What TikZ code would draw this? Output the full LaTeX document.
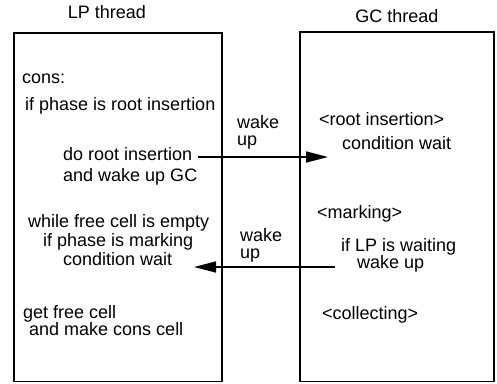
\documentclass[tikz,border=0pt]{standalone}
\usepackage{fontspec}
\setmainfont{Liberation Sans}
\usetikzlibrary{arrows.meta}
\begin{document}
\begin{tikzpicture}[x=1pt,y=-1pt,
  txt/.style={anchor=base west,inner sep=0pt,font=\fontsize{18}{20}\selectfont},
  ttl/.style={anchor=base,inner sep=0pt,font=\fontsize{18}{20}\selectfont},
  thread/.style={draw,line width=1.6pt},
  conn/.style={line width=1.5pt,-{Triangle[length=22pt,width=11pt]}}]
\useasboundingbox (0,0) rectangle (497,383);
\draw[thread] (14,33) rectangle (222,381.5);
\draw[thread] (300,32) rectangle (494,381.5);
\node[ttl] (lpt) at (107,18) {LP thread};
\node[ttl] (gct) at (397,22) {GC thread};
\node[txt] (cons) at (22,83) {cons:};
\node[txt] (ifroot) at (25,110) {if phase is root insertion};
\node[txt] (doroot) at (63,160) {do root insertion};
\node[txt] (andwake) at (63,181) {and wake up GC};
\node[txt] (wk1) at (237,128) {wake};
\node[txt] (up1) at (237,145) {up};
\node[txt] (gcroot) at (319,125) {<root insertion>};
\node[txt] (gcwait) at (342,149) {condition wait};
\node[txt] (while) at (28,227) {while free cell is empty};
\node[txt] (ifmark) at (43,246) {if phase is marking};
\node[txt] (lpwait) at (63,265) {condition wait};
\node[txt] (getfree) at (23,318) {get free cell};
\node[txt] (makecons) at (29,335) {and make cons cell};
\node[txt] (wk2) at (240,241) {wake};
\node[txt] (up2) at (240,258) {up};
\node[txt] (gcmark) at (317,218) {<marking>};
\node[txt] (iflp) at (341,251) {if LP is waiting};
\node[txt] (gcwake) at (357,268) {wake up};
\node[txt] (gccoll) at (322,319) {<collecting>};
\coordinate (a1s) at (198,157);
\coordinate (a1e) at (328,157);
\coordinate (a2s) at (335,267);
\coordinate (a2e) at (194,267);
\draw[conn] (a1s) -- (a1e);
\draw[conn] (a2s) -- (a2e);
\end{tikzpicture}
\end{document}
